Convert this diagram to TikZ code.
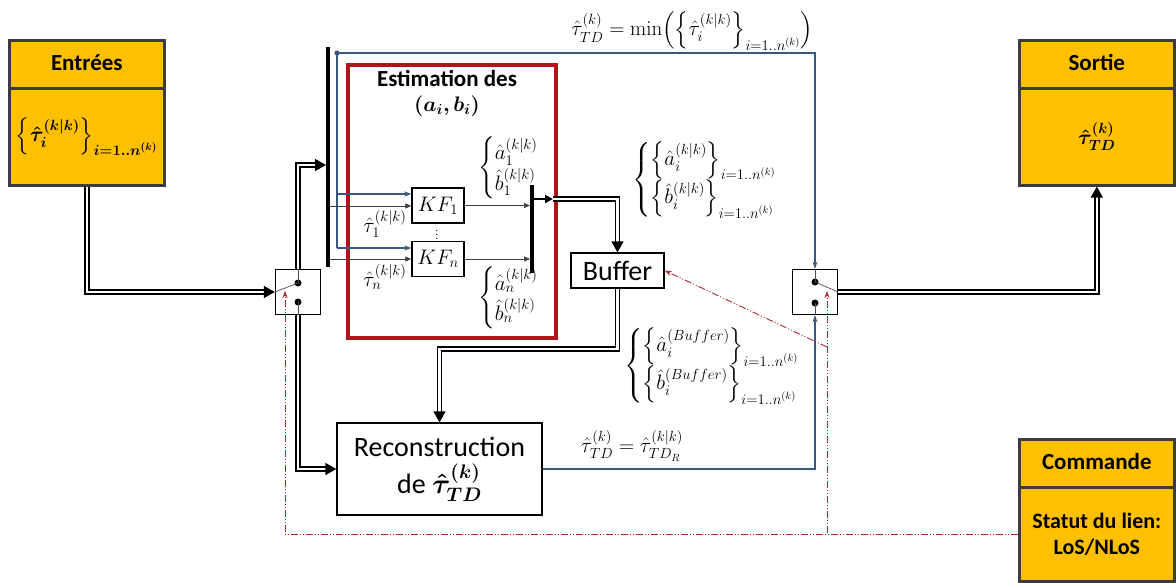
\RequirePackage{fix-cm}
\documentclass[tikz,border=0pt]{standalone}
\usepackage{amsmath}
\usepackage{bm}
\usepackage[no-math]{fontspec}
\setmainfont{Carlito}
\usetikzlibrary{arrows.meta,calc}
\definecolor{orangeF}{RGB}{255,192,0}
\definecolor{boxedge}{RGB}{60,60,60}
\definecolor{redbox}{RGB}{176,20,24}
\definecolor{blueL}{RGB}{56,88,128}
\definecolor{redD}{RGB}{176,40,44}
\newcommand{\kk}{(k\vert k)}
\newcommand{\rng}{i=1{.}{.}n^{(k)}}
\newcommand{\mIn}{$\bm{\left\{\hat{\tau}_i^{\kk}\right\}_{\rng}}$}
\newcommand{\mTD}{$\bm{\hat{\tau}_{TD}^{(k)}}$}
\newcommand{\mAB}{$\bm{(a_i, b_i)}$}
\newcommand{\mMin}{$\hat{\tau}_{TD}^{(k)} = \min\Bigl(\Bigl\{\hat{\tau}_i^{\kk}\Bigr\}_{\rng}\Bigr)$}
\newcommand{\mTa}{$\hat{\tau}_1^{\kk}$}
\newcommand{\mTn}{$\hat{\tau}_n^{\kk}$}
\newcommand{\mABa}{$\left\{\begin{array}{@{}l@{}}\hat{a}_1^{\kk}\\[1pt]\hat{b}_1^{\kk}\end{array}\right.$}
\newcommand{\mABn}{$\left\{\begin{array}{@{}l@{}}\hat{a}_n^{\kk}\\[1pt]\hat{b}_n^{\kk}\end{array}\right.$}
\newcommand{\mABi}{$\left\{\begin{array}{@{}l@{}}\left\{\hat{a}_i^{\kk}\right\}_{\rng}\\[1pt]\left\{\hat{b}_i^{\kk}\right\}_{\rng}\end{array}\right.$}
\newcommand{\mABb}{$\left\{\begin{array}{@{}l@{}}\left\{\hat{a}_i^{(Buffer)}\right\}_{\rng}\\[1pt]\left\{\hat{b}_i^{(Buffer)}\right\}_{\rng}\end{array}\right.$}
\newcommand{\mTDR}{$\hat{\tau}_{TD}^{(k)} = \hat{\tau}_{TD_R}^{\kk}$}
\newcommand{\mKFa}{$KF_1$}
\newcommand{\mKFn}{$KF_n$}
\newcommand{\mVd}{$\vdots$}
\begin{document}
\begin{tikzpicture}[x=1pt,y=-1pt,
  obox/.style={draw=boxedge, line width=2.6pt, fill=orangeF, minimum width=155pt, inner sep=0pt, anchor=north west},
  hdr/.style={font=\fontsize{23}{26}\selectfont\bfseries},
  blk/.style={draw, line width=1.3pt, fill=white, inner sep=0pt},
  sw/.style={draw, line width=1.4pt, minimum width=45pt, minimum height=45pt, inner sep=0pt},
  dbl/.style={draw=black, line width=1.5pt, double=white, double distance=2.6pt},
  dtip/.style={-{Triangle[length=11pt,width=12pt]}},
  bluel/.style={draw=blueL, line width=1.1pt, -{Stealth[length=7pt,width=5pt]}},
  thinl/.style={draw=black!75, line width=0.7pt, -{Triangle[length=6pt,width=5pt]}},
  cmd/.style={draw=redD, line width=0.9pt, dash pattern=on 7pt off 2pt on 1pt off 2pt on 1pt off 2pt},
  cmdtip/.style={-{Stealth[length=7pt,width=5pt]}},
  bus/.style={line width=4.5pt},
  mlab/.style={font=\fontsize{21}{25}\selectfont, inner sep=0pt},
  dotn/.style={circle, fill=black, inner sep=0pt, minimum size=7pt},
  swl/.style={draw=black!70, line width=0.7pt},
]
\useasboundingbox (0,0) rectangle (1176,583);

% orange boxes
\node[obox, minimum height=48pt] (inH) at (8,39) {};
\node[hdr] (inHT) at ([yshift=2pt]inH.center) {Entrées};
\node[obox, minimum height=97pt] (inB) at (8,87) {};
\node[mlab] (inT) at (inB.center) {\mIn};
\node[obox, minimum height=48pt] (soH) at (1018,39) {};
\node[hdr] (soHT) at ([yshift=2pt]soH.center) {Sortie};
\node[obox, minimum height=97pt] (soB) at (1018,87) {};
\node[mlab] (soT) at (soB.center) {\mTD};
\node[obox, minimum height=48pt] (cmH) at (1018,438) {};
\node[hdr] (cmHT) at ([yshift=2pt]cmH.center) {Commande};
\node[obox, minimum height=94pt, font=\fontsize{22}{26}\selectfont\bfseries, align=center] (cmB) at (1018,486) {Statut du lien:\\LoS/NLoS};

% red estimation box
\node[draw=redbox, line width=4pt, minimum width=208pt, minimum height=273pt, anchor=north west, inner sep=0pt] (est) at (346,63) {};
\node[font=\fontsize{23}{26}\selectfont\bfseries] (estT) at (447,78) {Estimation des};
\node[mlab] (estM) at (447,106) {\mAB};

% switches
\node[sw] (lsw) at (298,292) {};
\node[dotn] (l1) at (298,283) {};
\node[dotn] (l2) at (298,302) {};
\draw[swl] (lsw.north) -- (l1.center);
\draw[swl] (l2.center) -- (lsw.south);
\draw[swl] (lsw.west) -- (l1.center);
\node[sw] (rsw) at (815,292) {};
\node[dotn] (r1) at (815,282) {};
\node[dotn] (r2) at (815,303) {};
\draw[swl] (rsw.north) -- (r1.center);
\draw[swl] (r2.center) -- (rsw.south);
\draw[swl] (r1.center) -- (rsw.east);

% blocks
\node[blk, minimum width=52pt, minimum height=35pt, font=\fontsize{21}{25}\selectfont] (kf1) at (438,205.5) {\mKFa};
\node[blk, minimum width=52pt, minimum height=35pt, font=\fontsize{21}{25}\selectfont] (kfn) at (438,259) {\mKFn};
\node[font=\fontsize{10}{12}\selectfont, inner sep=0pt] (vd) at (437,232) {\mVd};
\node[blk, minimum width=93pt, minimum height=35pt, font=\fontsize{28}{32}\selectfont] (buf) at (617.5,270.5) {Buffer};
\node[blk, minimum width=205pt, minimum height=92pt, font=\fontsize{28}{37}\selectfont, align=center] (rec) at (439.5,469) {Reconstruction\\de \mTD};

% buses
\coordinate (busT) at (328,47);
\coordinate (busB) at (328,267);
\draw[bus] (busT) -- (busB);
\coordinate (rbT) at (532,185);
\coordinate (rbB) at (532,273);
\draw[bus] (rbT) -- (rbB);

% double lines
\coordinate (busIn) at (326,165);
\draw[dbl,dtip] (inB.south) |- (lsw.west);
\draw[dbl,dtip] (lsw.north) |- (busIn);
\draw[dbl,dtip] (lsw.south) |- (rec.west);
\draw[dbl,dtip] (rsw.east) -| (soB.south);
\coordinate (rbO) at (532,199);
\coordinate (rbx) at (553,199);
\draw[line width=2.6pt, -{Triangle[length=8pt,width=8pt]}] (rbO) -- (rbx);
\draw[dbl,dtip] (rbx) -| (buf.north);
\coordinate (bufD) at (617.5,349);
\draw[dbl,dtip] (buf.south) -- (bufD) -| (rec.north);

% blue lines
\node[circle, fill=blueL, minimum size=5pt, inner sep=0pt] (bdot) at (337,53) {};
\draw[bluel] (bdot.center) -| (rsw.north);
\coordinate (b1) at (337,194);
\coordinate (bn) at (337,248);
\draw[draw=blueL, line width=1.1pt] (bdot.center) -- (bn);
\draw[bluel] (b1) -- (b1 -| kf1.west);
\draw[bluel] (bn) -- (bn -| kfn.west);
\draw[bluel] (rec.east) -| (rsw.south);

% thin black lines
\coordinate (t1) at (330,206);
\coordinate (tn) at (330,259);
\coordinate (rbL) at (530,0);
\draw[thinl] (t1) -- (t1 -| kf1.west);
\draw[thinl] (tn) -- (tn -| kfn.west);
\draw[thinl] (kf1.east) -- (kf1.east -| rbL);
\draw[thinl] (kfn.east) -- (kfn.east -| rbL);

% command lines
\coordinate (lred) at (285,291);
\coordinate (rred) at (827,291);
\coordinate (rredB) at (827,533);
\coordinate (dg) at (827,347);
\draw[cmd,cmdtip] (cmB.west) -| (lred);
\draw[cmd,cmdtip] (rredB) -- (rred);
\draw[cmd,cmdtip] (dg) -- (buf.east);

% labels
\node[mlab] (minlab) at (692,31) {\mMin};
\node[mlab] (t1l) at (385,224) {\mTa};
\node[mlab] (tnl) at (385,277) {\mTn};
\node[mlab, anchor=west] (ab1) at (478,168) {\mABa};
\node[mlab, anchor=west] (abn) at (478,298) {\mABn};
\node[mlab, anchor=west] (abi) at (632,180) {\mABi};
\node[mlab, anchor=west] (abb) at (624,366) {\mABb};
\node[mlab] (tdr) at (632,446) {\mTDR};
\end{tikzpicture}
\end{document}
